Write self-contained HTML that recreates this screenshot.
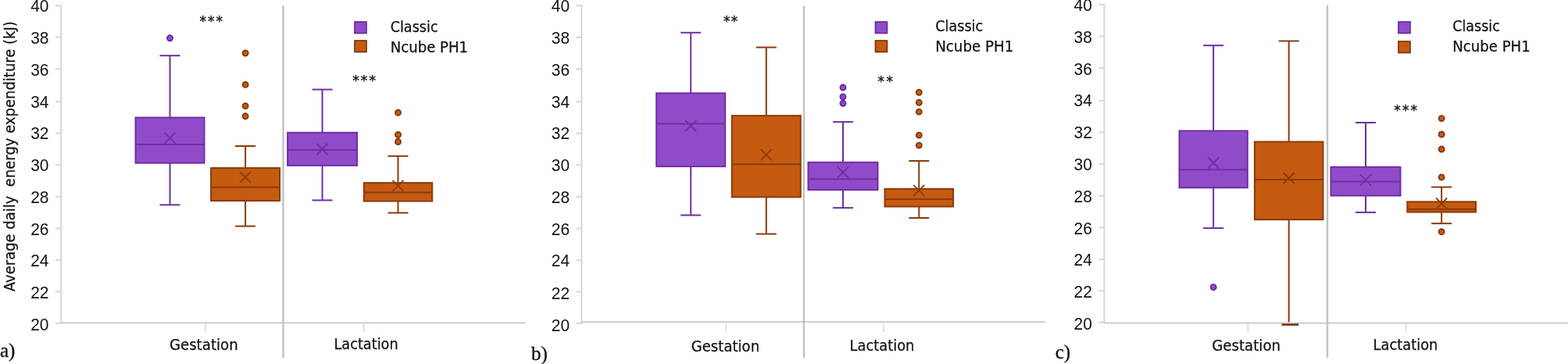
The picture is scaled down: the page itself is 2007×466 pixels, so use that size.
<!DOCTYPE html>
<html><head><meta charset="utf-8"><title>Energy expenditure box plots</title>
<style>
html,body{margin:0;padding:0;background:#fff;}
body{width:2007px;height:466px;overflow:hidden;}
svg{display:block;}
.n{font-family:'Liberation Sans', sans-serif;font-size:22.5px;fill:#111;}
.w{font-family:'DejaVu Sans', sans-serif;font-size:18.7px;fill:#111;stroke:#111;stroke-width:0.25px;}
.s{font-family:'Liberation Serif',serif;font-size:25px;fill:#111;stroke:#111;stroke-width:0.35px;}
.ast{font-family:"DejaVu Sans",sans-serif;font-size:17px;fill:#111;stroke:#111;stroke-width:0.35px;}
</style></head>
<body>
<svg width="2007" height="466" viewBox="0 0 2007 466">
<rect width="2007" height="466" fill="#fff"/>
<line x1="78" y1="6.1" x2="78" y2="414.8" stroke="#D8D8D8" stroke-width="2.1"/>
<line x1="71" y1="7.1" x2="78" y2="7.1" stroke="#D8D8D8" stroke-width="2"/>
<text x="62.5" y="14.8" text-anchor="end" class="n" textLength="23.3" lengthAdjust="spacingAndGlyphs">40</text>
<line x1="71" y1="47.7" x2="78" y2="47.7" stroke="#D8D8D8" stroke-width="2"/>
<text x="62.5" y="56" text-anchor="end" class="n" textLength="23.3" lengthAdjust="spacingAndGlyphs">38</text>
<line x1="71" y1="88.3" x2="78" y2="88.3" stroke="#D8D8D8" stroke-width="2"/>
<text x="62.5" y="96.7" text-anchor="end" class="n" textLength="23.3" lengthAdjust="spacingAndGlyphs">36</text>
<line x1="71" y1="130.1" x2="78" y2="130.1" stroke="#D8D8D8" stroke-width="2"/>
<text x="62.5" y="137.5" text-anchor="end" class="n" textLength="23.3" lengthAdjust="spacingAndGlyphs">34</text>
<line x1="71" y1="170.6" x2="78" y2="170.6" stroke="#D8D8D8" stroke-width="2"/>
<text x="62.5" y="178.3" text-anchor="end" class="n" textLength="23.3" lengthAdjust="spacingAndGlyphs">32</text>
<line x1="71" y1="211.2" x2="78" y2="211.2" stroke="#D8D8D8" stroke-width="2"/>
<text x="62.5" y="218.8" text-anchor="end" class="n" textLength="23.3" lengthAdjust="spacingAndGlyphs">30</text>
<line x1="71" y1="251.7" x2="78" y2="251.7" stroke="#D8D8D8" stroke-width="2"/>
<text x="62.5" y="260.1" text-anchor="end" class="n" textLength="23.3" lengthAdjust="spacingAndGlyphs">28</text>
<line x1="71" y1="292.4" x2="78" y2="292.4" stroke="#D8D8D8" stroke-width="2"/>
<text x="62.5" y="300.7" text-anchor="end" class="n" textLength="23.3" lengthAdjust="spacingAndGlyphs">26</text>
<line x1="71" y1="333.1" x2="78" y2="333.1" stroke="#D8D8D8" stroke-width="2"/>
<text x="62.5" y="340.8" text-anchor="end" class="n" textLength="23.3" lengthAdjust="spacingAndGlyphs">24</text>
<line x1="71" y1="373.4" x2="78" y2="373.4" stroke="#D8D8D8" stroke-width="2"/>
<text x="62.5" y="382.4" text-anchor="end" class="n" textLength="23.3" lengthAdjust="spacingAndGlyphs">22</text>
<line x1="71" y1="413.8" x2="78" y2="413.8" stroke="#D8D8D8" stroke-width="2"/>
<text x="62.5" y="423.4" text-anchor="end" class="n" textLength="23.3" lengthAdjust="spacingAndGlyphs">20</text>
<line x1="78" y1="413.4" x2="673" y2="413.4" stroke="#C8C6C8" stroke-width="1.9"/>
<line x1="362.5" y1="7.5" x2="362.5" y2="458" stroke="#C3C1C3" stroke-width="2.4"/>
<line x1="263" y1="413.4" x2="263" y2="425" stroke="#D8D8D8" stroke-width="1.6"/>
<line x1="465.5" y1="413.4" x2="465.5" y2="425" stroke="#D8D8D8" stroke-width="1.6"/>
<text x="216.9" y="447.9" class="w" textLength="87.8" lengthAdjust="spacingAndGlyphs">Gestation</text>
<text x="427.5" y="446.8" class="w" textLength="82.1" lengthAdjust="spacingAndGlyphs">Lactation</text>
<text x="0" y="456.9" class="s">a)</text>
<rect x="454" y="28" width="15" height="14.5" fill="#904CC8" stroke="#6629A2" stroke-width="1.7"/>
<rect x="454" y="52" width="15" height="14.5" fill="#C55A11" stroke="#7C3510" stroke-width="1.7"/>
<text x="499.7" y="41" class="w" textLength="60.9" lengthAdjust="spacingAndGlyphs">Classic</text>
<text x="499.7" y="66.8" class="w" textLength="99.4" lengthAdjust="spacingAndGlyphs">Ncube PH1</text>
<text x="255.6" y="33.1" class="ast" textLength="29.5" lengthAdjust="spacing">***</text>
<text x="451.3" y="109.3" class="ast" textLength="29.6" lengthAdjust="spacing">***</text>
<g stroke="#6F2EA6" stroke-width="2" fill="none">
<line x1="217.5" y1="71.2" x2="217.5" y2="150"/>
<line x1="217.5" y1="209.2" x2="217.5" y2="262.3"/>
<line x1="204.5" y1="71.2" x2="230.5" y2="71.2"/>
<line x1="204.5" y1="262.3" x2="230.5" y2="262.3"/>
<rect x="173.5" y="150.5" width="88" height="58.2" fill="#904CC8"/>
<line x1="174" y1="185.1" x2="261" y2="185.1"/>
<path d="M210.5 169.6L224.5 183.6M224.5 169.6L210.5 183.6" stroke-width="1.8"/>
</g>
<circle cx="217.5" cy="48.8" r="3.6" fill="#904CC8" stroke="#64259E" stroke-width="1.7"/>
<g stroke="#8A3B0C" stroke-width="2" fill="none">
<line x1="314.1" y1="187" x2="314.1" y2="214.6"/>
<line x1="314.1" y1="257.5" x2="314.1" y2="289.6"/>
<line x1="301.1" y1="187" x2="327.1" y2="187"/>
<line x1="301.1" y1="289.6" x2="327.1" y2="289.6"/>
<rect x="270.1" y="215.1" width="88" height="41.9" fill="#C55A11"/>
<line x1="270.6" y1="239.7" x2="357.6" y2="239.7"/>
<path d="M307.1 219.8L321.1 233.8M321.1 219.8L307.1 233.8" stroke-width="1.8"/>
</g>
<circle cx="314.1" cy="68" r="3.6" fill="#C55A11" stroke="#7A3510" stroke-width="1.7"/>
<circle cx="314.1" cy="108.4" r="3.6" fill="#C55A11" stroke="#7A3510" stroke-width="1.7"/>
<circle cx="314.1" cy="135.7" r="3.6" fill="#C55A11" stroke="#7A3510" stroke-width="1.7"/>
<circle cx="314.1" cy="148.8" r="3.6" fill="#C55A11" stroke="#7A3510" stroke-width="1.7"/>
<g stroke="#6F2EA6" stroke-width="2" fill="none">
<line x1="412.55" y1="114.6" x2="412.55" y2="169.3"/>
<line x1="412.55" y1="212.4" x2="412.55" y2="256.4"/>
<line x1="399.55" y1="114.6" x2="425.55" y2="114.6"/>
<line x1="399.55" y1="256.4" x2="425.55" y2="256.4"/>
<rect x="368.1" y="169.8" width="88.9" height="42.1" fill="#904CC8"/>
<line x1="368.6" y1="192" x2="456.5" y2="192"/>
<path d="M405.55 184L419.55 198M419.55 184L405.55 198" stroke-width="1.8"/>
</g>
<g stroke="#8A3B0C" stroke-width="2" fill="none">
<line x1="509.5" y1="199.8" x2="509.5" y2="233.6"/>
<line x1="509.5" y1="258" x2="509.5" y2="272.5"/>
<line x1="496.5" y1="199.8" x2="522.5" y2="199.8"/>
<line x1="496.5" y1="272.5" x2="522.5" y2="272.5"/>
<rect x="465.8" y="234.1" width="87.4" height="23.4" fill="#C55A11"/>
<line x1="466.3" y1="246.4" x2="552.7" y2="246.4"/>
<path d="M502.5 230.8L516.5 244.8M516.5 230.8L502.5 244.8" stroke-width="1.8"/>
</g>
<circle cx="509.5" cy="144.2" r="3.6" fill="#C55A11" stroke="#7A3510" stroke-width="1.7"/>
<circle cx="509.5" cy="172.5" r="3.6" fill="#C55A11" stroke="#7A3510" stroke-width="1.7"/>
<circle cx="509.5" cy="181.5" r="3.6" fill="#C55A11" stroke="#7A3510" stroke-width="1.7"/>
<line x1="744.4" y1="6.2" x2="744.4" y2="414.9" stroke="#D8D8D8" stroke-width="2.1"/>
<line x1="737.4" y1="7.2" x2="744.4" y2="7.2" stroke="#D8D8D8" stroke-width="2"/>
<text x="729.1" y="14.9" text-anchor="end" class="n" textLength="23.3" lengthAdjust="spacingAndGlyphs">40</text>
<line x1="737.4" y1="47.8" x2="744.4" y2="47.8" stroke="#D8D8D8" stroke-width="2"/>
<text x="729.1" y="56.1" text-anchor="end" class="n" textLength="23.3" lengthAdjust="spacingAndGlyphs">38</text>
<line x1="737.4" y1="88.4" x2="744.4" y2="88.4" stroke="#D8D8D8" stroke-width="2"/>
<text x="729.1" y="96.8" text-anchor="end" class="n" textLength="23.3" lengthAdjust="spacingAndGlyphs">36</text>
<line x1="737.4" y1="130.2" x2="744.4" y2="130.2" stroke="#D8D8D8" stroke-width="2"/>
<text x="729.1" y="137.6" text-anchor="end" class="n" textLength="23.3" lengthAdjust="spacingAndGlyphs">34</text>
<line x1="737.4" y1="170.7" x2="744.4" y2="170.7" stroke="#D8D8D8" stroke-width="2"/>
<text x="729.1" y="178.4" text-anchor="end" class="n" textLength="23.3" lengthAdjust="spacingAndGlyphs">32</text>
<line x1="737.4" y1="211.3" x2="744.4" y2="211.3" stroke="#D8D8D8" stroke-width="2"/>
<text x="729.1" y="218.9" text-anchor="end" class="n" textLength="23.3" lengthAdjust="spacingAndGlyphs">30</text>
<line x1="737.4" y1="251.8" x2="744.4" y2="251.8" stroke="#D8D8D8" stroke-width="2"/>
<text x="729.1" y="260.2" text-anchor="end" class="n" textLength="23.3" lengthAdjust="spacingAndGlyphs">28</text>
<line x1="737.4" y1="292.5" x2="744.4" y2="292.5" stroke="#D8D8D8" stroke-width="2"/>
<text x="729.1" y="300.8" text-anchor="end" class="n" textLength="23.3" lengthAdjust="spacingAndGlyphs">26</text>
<line x1="737.4" y1="333.2" x2="744.4" y2="333.2" stroke="#D8D8D8" stroke-width="2"/>
<text x="729.1" y="340.9" text-anchor="end" class="n" textLength="23.3" lengthAdjust="spacingAndGlyphs">24</text>
<line x1="737.4" y1="373.5" x2="744.4" y2="373.5" stroke="#D8D8D8" stroke-width="2"/>
<text x="729.1" y="382.5" text-anchor="end" class="n" textLength="23.3" lengthAdjust="spacingAndGlyphs">22</text>
<line x1="737.4" y1="413.9" x2="744.4" y2="413.9" stroke="#D8D8D8" stroke-width="2"/>
<text x="729.1" y="423.5" text-anchor="end" class="n" textLength="23.3" lengthAdjust="spacingAndGlyphs">20</text>
<line x1="744.4" y1="412.1" x2="1338" y2="412.1" stroke="#C8C6C8" stroke-width="1.9"/>
<line x1="1029" y1="7.5" x2="1029" y2="458.2" stroke="#C3C1C3" stroke-width="2.4"/>
<line x1="929.5" y1="412" x2="929.5" y2="425" stroke="#D8D8D8" stroke-width="1.6"/>
<line x1="1131" y1="414.5" x2="1131" y2="425.5" stroke="#D8D8D8" stroke-width="1.6"/>
<text x="884.7" y="450.2" class="w" textLength="87.5" lengthAdjust="spacingAndGlyphs">Gestation</text>
<text x="1087.6" y="449.4" class="w" textLength="82.8" lengthAdjust="spacingAndGlyphs">Lactation</text>
<text x="680" y="461.3" class="s">b)</text>
<rect x="1120.5" y="28" width="15" height="14.5" fill="#904CC8" stroke="#6629A2" stroke-width="1.7"/>
<rect x="1120.5" y="52" width="15" height="14.5" fill="#C55A11" stroke="#7C3510" stroke-width="1.7"/>
<text x="1197.2" y="40.1" class="w" textLength="61" lengthAdjust="spacingAndGlyphs">Classic</text>
<text x="1197.2" y="66.3" class="w" textLength="100.2" lengthAdjust="spacingAndGlyphs">Ncube PH1</text>
<text x="926" y="33.3" class="ast" textLength="18.2" lengthAdjust="spacing">**</text>
<text x="1123.5" y="110.3" class="ast" textLength="19.6" lengthAdjust="spacing">**</text>
<g stroke="#6F2EA6" stroke-width="2" fill="none">
<line x1="884.2" y1="41.8" x2="884.2" y2="118.8"/>
<line x1="884.2" y1="213.6" x2="884.2" y2="275.5"/>
<line x1="871.2" y1="41.8" x2="897.2" y2="41.8"/>
<line x1="871.2" y1="275.5" x2="897.2" y2="275.5"/>
<rect x="840.2" y="119.3" width="88" height="93.8" fill="#904CC8"/>
<line x1="840.7" y1="158.4" x2="927.7" y2="158.4"/>
<path d="M877.2 154L891.2 168M891.2 154L877.2 168" stroke-width="1.8"/>
</g>
<g stroke="#8A3B0C" stroke-width="2" fill="none">
<line x1="980.8" y1="60.6" x2="980.8" y2="147.6"/>
<line x1="980.8" y1="252.8" x2="980.8" y2="299.5"/>
<line x1="967.8" y1="60.6" x2="993.8" y2="60.6"/>
<line x1="967.8" y1="299.5" x2="993.8" y2="299.5"/>
<rect x="936.8" y="148.1" width="88" height="104.2" fill="#C55A11"/>
<line x1="937.3" y1="210.3" x2="1024.3" y2="210.3"/>
<path d="M973.8 191.1L987.8 205.1M987.8 191.1L973.8 205.1" stroke-width="1.8"/>
</g>
<g stroke="#6F2EA6" stroke-width="2" fill="none">
<line x1="1079" y1="156.1" x2="1079" y2="207.3"/>
<line x1="1079" y1="243.6" x2="1079" y2="266.1"/>
<line x1="1066" y1="156.1" x2="1092" y2="156.1"/>
<line x1="1066" y1="266.1" x2="1092" y2="266.1"/>
<rect x="1034.5" y="207.8" width="89" height="35.3" fill="#904CC8"/>
<line x1="1035" y1="229.3" x2="1123" y2="229.3"/>
<path d="M1072 213.5L1086 227.5M1086 213.5L1072 227.5" stroke-width="1.8"/>
</g>
<circle cx="1079" cy="112" r="3.6" fill="#904CC8" stroke="#64259E" stroke-width="1.7"/>
<circle cx="1079" cy="124" r="3.6" fill="#904CC8" stroke="#64259E" stroke-width="1.7"/>
<circle cx="1079" cy="132.3" r="3.6" fill="#904CC8" stroke="#64259E" stroke-width="1.7"/>
<g stroke="#8A3B0C" stroke-width="2" fill="none">
<line x1="1176.3" y1="206" x2="1176.3" y2="241.3"/>
<line x1="1176.3" y1="265" x2="1176.3" y2="279"/>
<line x1="1163.3" y1="206" x2="1189.3" y2="206"/>
<line x1="1163.3" y1="279" x2="1189.3" y2="279"/>
<rect x="1132.5" y="241.8" width="87.6" height="22.7" fill="#C55A11"/>
<line x1="1133" y1="255" x2="1219.6" y2="255"/>
<path d="M1169.3 236.8L1183.3 250.8M1183.3 236.8L1169.3 250.8" stroke-width="1.8"/>
</g>
<circle cx="1176.3" cy="118.3" r="3.6" fill="#C55A11" stroke="#7A3510" stroke-width="1.7"/>
<circle cx="1176.3" cy="131.3" r="3.6" fill="#C55A11" stroke="#7A3510" stroke-width="1.7"/>
<circle cx="1176.3" cy="143.1" r="3.6" fill="#C55A11" stroke="#7A3510" stroke-width="1.7"/>
<circle cx="1176.3" cy="173.1" r="3.6" fill="#C55A11" stroke="#7A3510" stroke-width="1.7"/>
<circle cx="1176.3" cy="186.1" r="3.6" fill="#C55A11" stroke="#7A3510" stroke-width="1.7"/>
<line x1="1413.4" y1="5" x2="1413.4" y2="414.6" stroke="#D8D8D8" stroke-width="2.1"/>
<line x1="1406.4" y1="6" x2="1413.4" y2="6" stroke="#D8D8D8" stroke-width="2"/>
<text x="1397.8" y="13.7" text-anchor="end" class="n" textLength="23.3" lengthAdjust="spacingAndGlyphs">40</text>
<line x1="1406.4" y1="46.6" x2="1413.4" y2="46.6" stroke="#D8D8D8" stroke-width="2"/>
<text x="1397.8" y="54.9" text-anchor="end" class="n" textLength="23.3" lengthAdjust="spacingAndGlyphs">38</text>
<line x1="1406.4" y1="87.2" x2="1413.4" y2="87.2" stroke="#D8D8D8" stroke-width="2"/>
<text x="1397.8" y="95.6" text-anchor="end" class="n" textLength="23.3" lengthAdjust="spacingAndGlyphs">36</text>
<line x1="1406.4" y1="129" x2="1413.4" y2="129" stroke="#D8D8D8" stroke-width="2"/>
<text x="1397.8" y="136.4" text-anchor="end" class="n" textLength="23.3" lengthAdjust="spacingAndGlyphs">34</text>
<line x1="1406.4" y1="169.5" x2="1413.4" y2="169.5" stroke="#D8D8D8" stroke-width="2"/>
<text x="1397.8" y="177.2" text-anchor="end" class="n" textLength="23.3" lengthAdjust="spacingAndGlyphs">32</text>
<line x1="1406.4" y1="210.1" x2="1413.4" y2="210.1" stroke="#D8D8D8" stroke-width="2"/>
<text x="1397.8" y="217.7" text-anchor="end" class="n" textLength="23.3" lengthAdjust="spacingAndGlyphs">30</text>
<line x1="1406.4" y1="250.6" x2="1413.4" y2="250.6" stroke="#D8D8D8" stroke-width="2"/>
<text x="1397.8" y="259" text-anchor="end" class="n" textLength="23.3" lengthAdjust="spacingAndGlyphs">28</text>
<line x1="1406.4" y1="291.3" x2="1413.4" y2="291.3" stroke="#D8D8D8" stroke-width="2"/>
<text x="1397.8" y="299.6" text-anchor="end" class="n" textLength="23.3" lengthAdjust="spacingAndGlyphs">26</text>
<line x1="1406.4" y1="332" x2="1413.4" y2="332" stroke="#D8D8D8" stroke-width="2"/>
<text x="1397.8" y="339.7" text-anchor="end" class="n" textLength="23.3" lengthAdjust="spacingAndGlyphs">24</text>
<line x1="1406.4" y1="372.3" x2="1413.4" y2="372.3" stroke="#D8D8D8" stroke-width="2"/>
<text x="1397.8" y="381.3" text-anchor="end" class="n" textLength="23.3" lengthAdjust="spacingAndGlyphs">22</text>
<line x1="1406.4" y1="412.7" x2="1413.4" y2="412.7" stroke="#D8D8D8" stroke-width="2"/>
<text x="1397.8" y="422.3" text-anchor="end" class="n" textLength="23.3" lengthAdjust="spacingAndGlyphs">20</text>
<line x1="1413.4" y1="413.6" x2="2007" y2="413.6" stroke="#C8C6C8" stroke-width="1.9"/>
<line x1="1699" y1="6.5" x2="1699" y2="458.2" stroke="#C3C1C3" stroke-width="2.4"/>
<line x1="1597.4" y1="413.6" x2="1597.4" y2="425" stroke="#D8D8D8" stroke-width="1.6"/>
<line x1="1799.9" y1="413.6" x2="1799.9" y2="425" stroke="#D8D8D8" stroke-width="1.6"/>
<text x="1551.2" y="448.6" class="w" textLength="87.9" lengthAdjust="spacingAndGlyphs">Gestation</text>
<text x="1757.6" y="447.8" class="w" textLength="82.8" lengthAdjust="spacingAndGlyphs">Lactation</text>
<text x="1350.7" y="458.5" class="s">c)</text>
<rect x="1790" y="28" width="15" height="14.5" fill="#904CC8" stroke="#6629A2" stroke-width="1.7"/>
<rect x="1790" y="53" width="15" height="14.5" fill="#C55A11" stroke="#7C3510" stroke-width="1.7"/>
<text x="1859.2" y="40.1" class="w" textLength="60.7" lengthAdjust="spacingAndGlyphs">Classic</text>
<text x="1859.2" y="66.3" class="w" textLength="99.6" lengthAdjust="spacingAndGlyphs">Ncube PH1</text>
<text x="1784.3" y="147" class="ast" textLength="29.7" lengthAdjust="spacing">***</text>
<g stroke="#6F2EA6" stroke-width="2" fill="none">
<line x1="1553.15" y1="58.2" x2="1553.15" y2="167"/>
<line x1="1553.15" y1="240.8" x2="1553.15" y2="292.1"/>
<line x1="1540.15" y1="58.2" x2="1566.15" y2="58.2"/>
<line x1="1540.15" y1="292.1" x2="1566.15" y2="292.1"/>
<rect x="1509.5" y="167.5" width="87.3" height="72.8" fill="#904CC8"/>
<line x1="1510" y1="217.3" x2="1596.3" y2="217.3"/>
<path d="M1546.15 201.5L1560.15 215.5M1560.15 201.5L1546.15 215.5" stroke-width="1.8"/>
</g>
<circle cx="1553.15" cy="367.7" r="3.6" fill="#904CC8" stroke="#64259E" stroke-width="1.7"/>
<g stroke="#8A3B0C" stroke-width="2" fill="none">
<line x1="1649.7" y1="52.5" x2="1649.7" y2="181"/>
<line x1="1649.7" y1="281.6" x2="1649.7" y2="412.4"/>
<line x1="1636.7" y1="52.5" x2="1662.7" y2="52.5"/>
<line x1="1640.5" y1="415.6" x2="1662.2" y2="415.6" stroke-width="2.6" stroke="#7A3208"/>
<rect x="1605.9" y="181.5" width="87.6" height="99.6" fill="#C55A11"/>
<line x1="1606.4" y1="230.1" x2="1693" y2="230.1"/>
<path d="M1642.7 221L1656.7 235M1656.7 221L1642.7 235" stroke-width="1.8"/>
</g>
<g stroke="#6F2EA6" stroke-width="2" fill="none">
<line x1="1748" y1="157" x2="1748" y2="213.3"/>
<line x1="1748" y1="251" x2="1748" y2="271.9"/>
<line x1="1735" y1="157" x2="1761" y2="157"/>
<line x1="1735" y1="271.9" x2="1761" y2="271.9"/>
<rect x="1703.5" y="213.8" width="89" height="36.7" fill="#904CC8"/>
<line x1="1704" y1="232.6" x2="1792" y2="232.6"/>
<path d="M1741 223.7L1755 237.7M1755 223.7L1741 237.7" stroke-width="1.8"/>
</g>
<g stroke="#8A3B0C" stroke-width="2" fill="none">
<line x1="1845.15" y1="239.5" x2="1845.15" y2="257.8"/>
<line x1="1845.15" y1="272" x2="1845.15" y2="286.1"/>
<line x1="1832.15" y1="239.5" x2="1858.15" y2="239.5"/>
<line x1="1832.15" y1="286.1" x2="1858.15" y2="286.1"/>
<rect x="1801.3" y="258.3" width="87.7" height="13.2" fill="#C55A11"/>
<line x1="1801.8" y1="267.8" x2="1888.5" y2="267.8"/>
<path d="M1838.15 253.5L1852.15 267.5M1852.15 253.5L1838.15 267.5" stroke-width="1.8"/>
</g>
<circle cx="1845.15" cy="151.6" r="3.6" fill="#C55A11" stroke="#7A3510" stroke-width="1.7"/>
<circle cx="1845.15" cy="172" r="3.6" fill="#C55A11" stroke="#7A3510" stroke-width="1.7"/>
<circle cx="1845.15" cy="191" r="3.6" fill="#C55A11" stroke="#7A3510" stroke-width="1.7"/>
<circle cx="1845.15" cy="226.9" r="3.6" fill="#C55A11" stroke="#7A3510" stroke-width="1.7"/>
<circle cx="1845.15" cy="296.7" r="3.6" fill="#C55A11" stroke="#7A3510" stroke-width="1.7"/>
<text transform="translate(19.3 200.2) rotate(-90)" text-anchor="middle" class="w" textLength="346" lengthAdjust="spacingAndGlyphs" style="white-space:pre" xml:space="preserve">Average daily  energy expenditure (kJ)</text>
</svg>
</body></html>
